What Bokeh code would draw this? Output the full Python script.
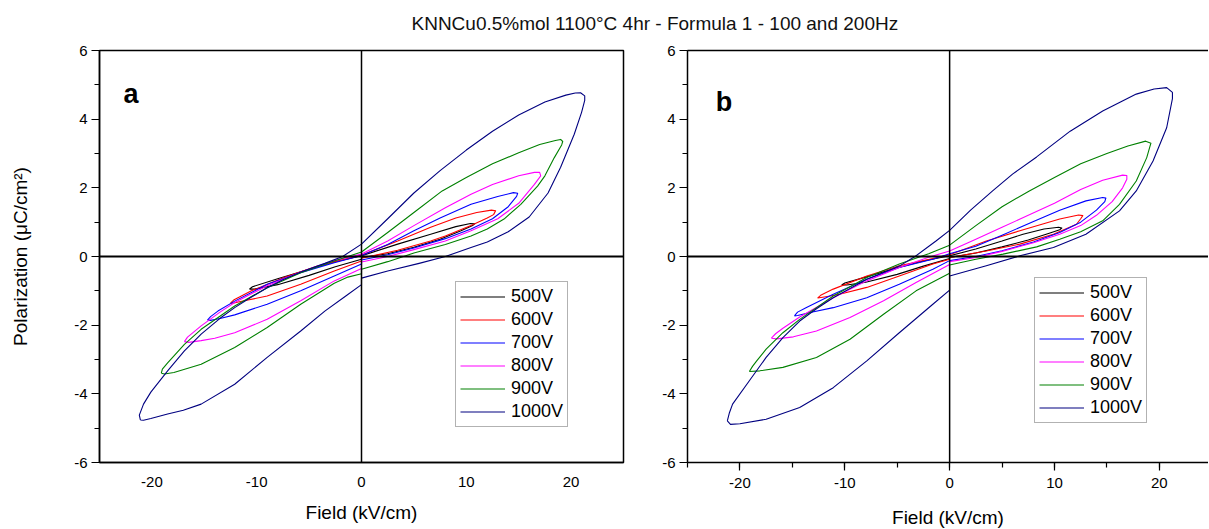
from bokeh.plotting import figure
from bokeh.models import (Span, Label, Legend, LegendItem, LinearAxis,
                          SingleIntervalTicker, FixedTicker, Range1d)
from bokeh.layouts import column, row
from bokeh.embed import file_html
from bokeh.resources import INLINE

TITLE = "KNNCu0.5%mol 1100°C 4hr - Formula 1 - 100 and 200Hz"
X_LABEL = "Field (kV/cm)"
Y_LABEL = "Polarization (μC/cm²)"
PANEL_TAGS = ["a", "b"]
VOLTAGES = ["500V", "600V", "700V", "800V", "900V", "1000V"]
COLORS = ["#000000", "#FF0000", "#0000FF", "#FF00FF", "#008000", "#000080"]
X_TICKS = [-20, -10, 0, 10, 20]
Y_TICKS = [-6, -4, -2, 0, 2, 4, 6]

# ---- panel a : loops as (Field kV/cm, Polarization uC/cm2) ----
a_500 = [(-10.7,-0.95), (-10.4,-0.88), (-8,-0.65), (-5,-0.37), (-2.5,-0.15), (0,0.02), (3.45,0.36),
         (6.6,0.65), (9,0.87), (10.4,0.96), (10.8,0.95), (10.6,0.90), (9.5,0.75), (7.5,0.50), (5,0.27),
         (2.5,0.08), (0,-0.03), (0,-0.08), (-2.5,-0.30), (-5,-0.55), (-8,-0.82), (-10.2,-0.95), (-10.7,-0.95)]
a_600 = [(-12.5,-1.36), (-12.2,-1.27), (-10.5,-1.00), (-7.4,-0.61), (-4.2,-0.28), (0,0.04), (3.45,0.45),
         (6.6,0.85), (9,1.12), (11,1.28), (12.4,1.35), (12.8,1.33), (12.6,1.22), (12,1.12), (10.45,0.90),
         (8,0.60), (6.6,0.45), (3.45,0.18), (0,-0.05), (0,-0.13), (-2.6,-0.42), (-5.8,-0.81), (-9.0,-1.15),
         (-11.2,-1.29), (-12.3,-1.36), (-12.5,-1.36)]
a_700 = [(-14.7,-1.85), (-14.4,-1.75), (-13.7,-1.59), (-12.1,-1.30), (-9.0,-0.81), (-5.8,-0.47), (-2.6,-0.18),
         (0,0.03), (2.5,0.35), (5,0.75), (7.5,1.12), (10.45,1.52), (13,1.75), (14.5,1.86), (14.9,1.84),
         (14.8,1.75), (14,1.45), (12.5,1.10), (10.45,0.80), (8,0.52), (5,0.25), (2.5,0.05), (0,-0.10),
         (0,-0.22), (-2.6,-0.57), (-5.8,-1.00), (-9.0,-1.39), (-12.1,-1.70), (-13.4,-1.80), (-14.4,-1.86),
         (-14.7,-1.85)]
a_800 = [(-16.9,-2.48), (-16.6,-2.35), (-15.3,-2.02), (-13.5,-1.62), (-12.1,-1.34), (-9.0,-0.85), (-5.8,-0.45),
         (-2.6,-0.12), (0,0.07), (2.5,0.45), (5,0.90), (8,1.42), (10.45,1.81), (12.5,2.10), (15,2.35),
         (16.5,2.45), (17.0,2.45), (17.1,2.35), (16.5,2.10), (15,1.55), (13,1.10), (10.45,0.75), (8,0.45),
         (5,0.20), (2.5,0.0), (0,-0.16), (0,-0.35), (-2.6,-0.71), (-5.8,-1.29), (-9.0,-1.83), (-12.1,-2.22),
         (-14,-2.38), (-15.3,-2.45), (-16.5,-2.50), (-16.9,-2.48)]
a_900 = [(-19.1,-3.40), (-19.0,-3.28), (-18.5,-3.10), (-16.9,-2.56), (-15.3,-2.12), (-12.1,-1.44), (-9.0,-0.91),
         (-5.8,-0.47), (-2.6,-0.13), (-1.3,0.0), (0,0.13), (2.5,0.70), (5,1.28), (7.7,1.91), (10,2.30),
         (12.5,2.70), (15,3.02), (17,3.26), (18.5,3.38), (19.0,3.41), (19.2,3.35), (19.1,3.25), (18.4,2.88),
         (17.5,2.35), (16.8,2.05), (15.2,1.52), (13.6,1.09), (12,0.80), (10.45,0.60), (8,0.35), (5,0.10),
         (2.5,-0.15), (0,-0.37), (0,-0.50), (-1.3,-0.60), (-2.6,-0.78), (-5.8,-1.39), (-9.0,-2.07),
         (-12.1,-2.65), (-15.3,-3.14), (-17.9,-3.38), (-18.8,-3.42), (-19.1,-3.40)]
a_1000 = [(-21.1,-4.76), (-21.2,-4.62), (-20.8,-4.30), (-20.1,-3.95), (-18.5,-3.33), (-16.9,-2.75), (-15.3,-2.26),
          (-13.5,-1.80), (-12.1,-1.49), (-10.5,-1.18), (-9.0,-0.91), (-7.5,-0.68), (-5.8,-0.45), (-3.5,-0.20),
          (-1.8,0.0), (0,0.36), (2.5,1.10), (5,1.85), (7.5,2.50), (10,3.10), (12.5,3.65), (15,4.12), (17.5,4.50),
          (19.5,4.70), (20.4,4.76), (20.9,4.77), (21.3,4.68), (21.3,4.55), (21.0,4.20), (20.3,3.56), (19.0,2.60),
          (17.8,1.85), (16.0,1.15), (14.0,0.72), (12.0,0.42), (10.45,0.26), (8.0,0.0), (5.5,-0.20), (2.5,-0.42),
          (0,-0.63), (0,-0.82), (-1.5,-1.15), (-3.5,-1.59), (-5.8,-2.17), (-9.0,-2.94), (-12.1,-3.72),
          (-15.3,-4.30), (-17.0,-4.48), (-18.5,-4.59), (-20.1,-4.72), (-20.8,-4.77), (-21.1,-4.76)]

# ---- panel b ----
b_500 = [(-10.3,-0.83), (-10.0,-0.77), (-8,-0.60), (-5,-0.33), (-2.5,-0.13), (0,0.02), (2.5,0.22), (5,0.45),
         (7,0.65), (9,0.80), (10.4,0.85), (10.7,0.83), (10.5,0.78), (9.5,0.68), (7.5,0.48), (5,0.28), (2.5,0.10),
         (0,-0.03), (0,-0.06), (-2.5,-0.28), (-5,-0.52), (-8,-0.75), (-9.8,-0.83), (-10.3,-0.83)]
b_600 = [(-12.6,-1.21), (-12.3,-1.13), (-11.1,-0.95), (-7.9,-0.57), (-4.8,-0.27), (-1.6,-0.06), (0,0.05),
         (3.5,0.45), (6.7,0.75), (10.5,1.09), (12.3,1.21), (12.7,1.19), (12.5,1.10), (12.1,0.94), (9.9,0.65),
         (6.7,0.36), (3.5,0.16), (0,-0.03), (0,-0.08), (-1.6,-0.22), (-4.8,-0.57), (-7.9,-0.90), (-10.5,-1.10),
         (-11.8,-1.17), (-12.6,-1.21)]
b_700 = [(-14.8,-1.73), (-14.5,-1.62), (-13.7,-1.49), (-11.1,-1.10), (-7.9,-0.66), (-4.8,-0.32), (-1.6,-0.08),
         (0,0.08), (2.5,0.30), (5,0.62), (8,1.02), (10.5,1.35), (13,1.62), (14.6,1.72), (14.9,1.70), (14.8,1.60),
         (14,1.35), (12.5,1.00), (10.5,0.70), (8,0.42), (5,0.17), (2.5,0.0), (0,-0.12), (-1.6,-0.37),
         (-4.8,-0.81), (-7.9,-1.20), (-11.1,-1.49), (-13.3,-1.63), (-14.5,-1.72), (-14.8,-1.73)]
b_800 = [(-17.0,-2.38), (-16.6,-2.25), (-15.9,-2.09), (-14.3,-1.76), (-11.1,-1.20), (-7.9,-0.71), (-4.8,-0.32),
         (-2.0,-0.02), (0,0.16), (2.5,0.50), (5,0.85), (7.5,1.20), (10,1.55), (12.5,1.95), (14.6,2.22),
         (16.5,2.37), (16.9,2.36), (16.9,2.25), (16.5,2.00), (15.5,1.60), (14,1.20), (12.5,0.90), (10.5,0.65),
         (8,0.40), (5,0.15), (2.5,-0.03), (0,-0.15), (0,-0.23), (-3.2,-0.76), (-6.3,-1.29), (-9.5,-1.78),
         (-12.7,-2.17), (-14.9,-2.34), (-16.5,-2.40), (-17.0,-2.38)]
b_900 = [(-19.1,-3.35), (-18.8,-3.20), (-18.4,-3.04), (-17.5,-2.70), (-15.9,-2.22), (-14.3,-1.83), (-11.1,-1.15),
         (-7.9,-0.61), (-4.8,-0.22), (-2.0,0.08), (0,0.33), (2.5,0.90), (5,1.45), (7.6,1.91), (10,2.30),
         (12.5,2.70), (15,3.00), (17,3.22), (18.7,3.36), (19.2,3.30), (19.1,3.20), (18.8,2.88), (17.8,2.20),
         (16.2,1.52), (14.6,1.04), (12.5,0.72), (10.5,0.50), (8.3,0.28), (5.1,0.07), (2.5,-0.08), (0,-0.25),
         (0,-0.49), (-3.2,-1.00), (-6.3,-1.68), (-9.5,-2.41), (-12.7,-2.94), (-15.9,-3.23), (-18.1,-3.33),
         (-19.1,-3.35)]
b_1000 = [(-21.2,-4.79), (-21.0,-4.55), (-20.7,-4.30), (-19.1,-3.62), (-17.5,-2.94), (-15.9,-2.36), (-14.3,-1.88),
          (-12.7,-1.52), (-11.1,-1.20), (-7.9,-0.66), (-4.8,-0.28), (-3.3,0.0), (-1.3,0.45), (0,0.76), (2,1.35),
          (4.1,1.91), (6,2.40), (8.3,2.90), (11.5,3.65), (14.6,4.24), (17.8,4.73), (19.5,4.88), (20.7,4.92),
          (21.25,4.78), (21.25,4.60), (20.7,3.75), (19.4,2.78), (17.8,1.91), (16.2,1.33), (13.0,0.65), (9.9,0.26),
          (6.7,0.02), (3.5,-0.27), (0,-0.57), (0,-0.98), (-1.6,-1.39), (-4.8,-2.22), (-7.9,-3.04), (-11.1,-3.82),
          (-14.3,-4.40), (-17.5,-4.74), (-20.0,-4.87), (-20.9,-4.89), (-21.2,-4.79)]

PANEL_A = [a_500, a_600, a_700, a_800, a_900, a_1000]
PANEL_B = [b_500, b_600, b_700, b_800, b_900, b_1000]

FONT = "Liberation Sans"
FRAME_H = 412


def make_panel(loops, tag, first):
    if first:
        fw, bl, br = 524, 99, 25
    else:
        fw, bl, br = 521, 39, 0
    xr = Range1d(-25, 25) if first else Range1d(-25, -25 + fw / 10.485)
    p = figure(frame_width=fw, frame_height=FRAME_H, x_range=xr, y_range=Range1d(-6, 6),
               output_backend="svg", toolbar_location=None,
               x_axis_location=None, y_axis_location=None,
               min_border_left=bl, min_border_right=br, min_border_top=12, min_border_bottom=66)
    p.grid.visible = False
    p.background_fill_color = "white"
    p.border_fill_color = "white"
    if first:
        p.outline_line_color = "black"
        p.outline_line_width = 1.5
        p.outline_line_alpha = 1
    else:
        p.outline_line_color = None
        top = LinearAxis(ticker=FixedTicker(ticks=[]), axis_line_width=1.5, axis_line_color="black",
                         major_tick_out=0, minor_tick_out=0, major_label_text_font_size="0px")
        p.add_layout(top, "above")

    yax = LinearAxis(ticker=SingleIntervalTicker(interval=2, num_minor_ticks=2))
    yax.major_label_overrides = {v: str(v) for v in Y_TICKS}
    yax.major_tick_out = 8
    yax.major_tick_in = 0
    yax.minor_tick_out = 5
    yax.minor_tick_in = 0
    yax.major_tick_line_width = 1.2
    yax.minor_tick_line_width = 1.2
    yax.axis_line_width = 1.5
    yax.major_label_text_font = FONT
    yax.major_label_text_font_size = "15px"
    yax.major_label_text_color = "black"
    yax.major_label_standoff = 4
    if first:
        yax.axis_label = Y_LABEL
        yax.axis_label_text_font = FONT
        yax.axis_label_text_font_size = "19px"
        yax.axis_label_text_font_style = "normal"
        yax.axis_label_text_color = "black"
        yax.axis_label_standoff = 40
    p.add_layout(yax, "left")

    if first:
        xax = LinearAxis(ticker=FixedTicker(ticks=X_TICKS))
        xax.major_tick_out = 0
        xax.minor_tick_out = 0
        xax.major_label_standoff = 14
    else:
        xax = LinearAxis(ticker=SingleIntervalTicker(interval=10, num_minor_ticks=2))
        xax.major_tick_out = 8
        xax.minor_tick_out = 5
        xax.major_label_standoff = 7
    xax.major_tick_in = 0
    xax.minor_tick_in = 0
    xax.major_tick_line_width = 1.2
    xax.minor_tick_line_width = 1.2
    xax.major_label_overrides = {v: str(v) for v in X_TICKS}
    xax.axis_line_width = 1.5
    xax.major_label_text_font = FONT
    xax.major_label_text_font_size = "15px"
    xax.major_label_text_color = "black"
    xax.axis_label = X_LABEL
    xax.axis_label_text_font = FONT
    xax.axis_label_text_font_size = "19px"
    xax.axis_label_text_font_style = "normal"
    xax.axis_label_text_color = "black"
    xax.axis_label_standoff = 12 if first else 16
    p.add_layout(xax, "below")

    p.add_layout(Span(location=0, dimension="width", line_color="black", line_width=2))
    p.add_layout(Span(location=0, dimension="height", line_color="black", line_width=1.5))

    items = []
    for loop, col, lab in zip(loops, COLORS, VOLTAGES):
        xs = [pt[0] for pt in loop]
        ys = [pt[1] for pt in loop]
        r = p.line(xs, ys, line_color=col, line_width=1.1, line_join="round")
        items.append(LegendItem(label=lab, renderers=[r]))

    leg = Legend(items=items, location=(356, 35) if first else (347, 39))
    leg.label_text_font = FONT
    leg.label_text_font_size = "18px"
    leg.label_text_color = "black"
    leg.glyph_width = 45
    leg.glyph_height = 19
    leg.label_height = 19
    leg.spacing = 2
    leg.padding = 4
    leg.margin = 0
    leg.label_standoff = 6
    leg.border_line_color = "#666666"
    leg.border_line_width = 1.5
    leg.background_fill_color = "white"
    leg.background_fill_alpha = 1
    p.add_layout(leg)

    if first:
        p.add_layout(Label(x=-22.7, y=4.73, text=tag, text_font=FONT, text_font_size="27px",
                           text_font_style="bold", text_color="black", text_baseline="alphabetic"))
    else:
        p.add_layout(Label(x=-22.3, y=4.49, text=tag, text_font=FONT, text_font_size="27px",
                           text_font_style="bold", text_color="black", text_baseline="alphabetic"))
    return p


p0 = figure(width=1208, height=38, x_range=Range1d(0, 1208), y_range=Range1d(0, 38),
            output_backend="svg", toolbar_location=None, x_axis_location=None, y_axis_location=None,
            min_border=0)
p0.outline_line_color = None
p0.grid.visible = False
p0.add_layout(Label(x=411, y=15, text=TITLE, text_font=FONT, text_font_size="19px",
                    text_color="#111111", text_baseline="alphabetic"))

p1 = make_panel(PANEL_A, PANEL_TAGS[0], True)
p2 = make_panel(PANEL_B, PANEL_TAGS[1], False)

layout = column(p0, row(p1, p2))
open("out.html", "w").write(file_html(layout, INLINE))
